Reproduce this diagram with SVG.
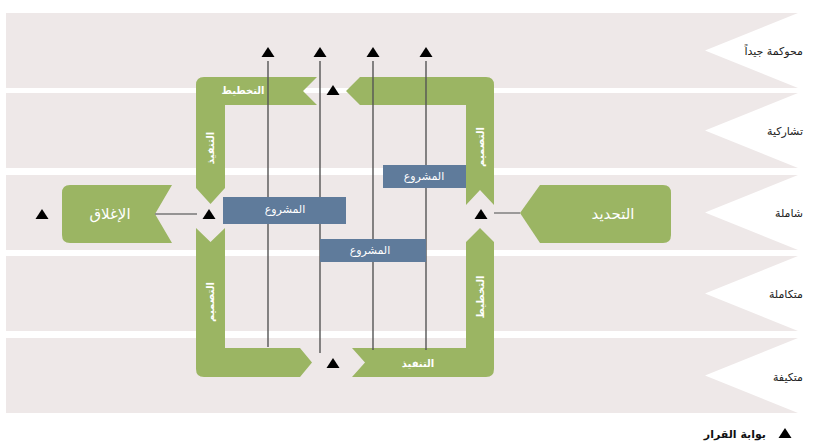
<svg xmlns="http://www.w3.org/2000/svg" xmlns:xlink="http://www.w3.org/1999/xlink" width="828" height="446" viewBox="0 0 828 446">
<style>
.band{fill:#eee8e8}
.green{fill:#9bb563}
.blue{fill:#5f7b9b}
.line{stroke:#555;stroke-width:1.4;fill:none}
.conn{stroke:#777;stroke-width:1.4;fill:none}
.gate{fill:#000}
text{font-family:"DejaVu Sans","Noto Sans",sans-serif}
.lab{fill:#fff;font-size:10px;font-weight:bold}
.big{fill:#fff;font-size:15px}
.proj{fill:#fff;font-size:11px}
.row{fill:#222;font-size:11px}
.leg{fill:#111;font-size:11px;font-weight:bold}
</style>
<defs>
<path id="tri" d="M-6.5,4 L6.5,4 L0,-6 Z"/>
<path id="bandshape" d="M6,0 H798 L705,37.5 L798,75 H6 Z"/>
</defs>
<rect width="828" height="446" fill="#fff"/>
<g id="bands">
<use xlink:href="#bandshape" class="band" transform="translate(0,13)"/>
<use xlink:href="#bandshape" class="band" transform="translate(0,93)"/>
<use xlink:href="#bandshape" class="band" transform="translate(0,175)"/>
<use xlink:href="#bandshape" class="band" transform="translate(0,256)"/>
<use xlink:href="#bandshape" class="band" transform="translate(0,338)"/>
<text class="row" x="803" y="55" text-anchor="end">محوكمة جيداً</text>
<text class="row" x="803" y="135" text-anchor="end">تشاركية</text>
<text class="row" x="803" y="217" text-anchor="end">شاملة</text>
<text class="row" x="803" y="298" text-anchor="end">متكاملة</text>
<text class="row" x="803" y="381" text-anchor="end">متكيفة</text>
</g>
<g id="closing">
<path class="green" d="M172,185 L155,214 L172,243 H70 Q62,243 62,235 V193 Q62,185 70,185 Z"/>
<text class="big" x="110" y="219" text-anchor="middle">الإغلاق</text>
</g>
<g id="defining">
<path class="green" d="M520,213 L540,185 H663 Q671,185 671,193 V235 Q671,243 663,243 H540 Z"/>
<text class="big" x="613" y="219" text-anchor="middle">التحديد</text>
</g>
<g id="bracket-top-left">
<path class="green" d="M317,77 L303,91 L317,105 H225 V188 L210.5,204 L196,188 V85 Q196,77 204,77 Z"/>
<text class="lab" x="243" y="94" text-anchor="middle">التخطيط</text>
<text class="lab" transform="translate(214,148) rotate(-90)" text-anchor="middle">التنفيذ</text>
</g>
<g id="bracket-top-right">
<path class="green" d="M346,91 L360,77 H486 Q494,77 494,85 V205 L480,190 L466,205 V105 H360 Z"/>
<text class="lab" transform="translate(484,147) rotate(-90)" text-anchor="middle">التصميم</text>
</g>
<g id="bracket-bottom-left">
<path class="green" d="M196,228 L210.5,242 L225,228 V348 H300 L312,362.5 L300,377 H204 Q196,377 196,369 Z"/>
<text class="lab" transform="translate(214,302) rotate(-90)" text-anchor="middle">التصميم</text>
</g>
<g id="bracket-bottom-right">
<path class="green" d="M352,348 H466 V242 L480,228 L494,242 V369 Q494,377 486,377 H352 L365,362.5 Z"/>
<text class="lab" transform="translate(484,297) rotate(-90)" text-anchor="middle">التخطيط</text>
<text class="lab" x="418" y="367" text-anchor="middle">التنفيذ</text>
</g>
<g id="connectors">
<line class="line" x1="268" y1="61" x2="268" y2="347"/>
<line class="line" x1="320" y1="61" x2="320" y2="353"/>
<line class="line" x1="373" y1="61" x2="373" y2="350"/>
<line class="line" x1="426" y1="61" x2="426" y2="350"/>
<line class="conn" x1="155" y1="214" x2="197" y2="214"/>
<line class="conn" x1="494" y1="213" x2="520" y2="213"/>
<use xlink:href="#tri" class="gate" x="268" y="53"/>
<use xlink:href="#tri" class="gate" x="320" y="53"/>
<use xlink:href="#tri" class="gate" x="373" y="53"/>
<use xlink:href="#tri" class="gate" x="426" y="53"/>
</g>
<g id="project-1">
<rect class="blue" x="223" y="197" width="123" height="27"/>
<text class="proj" x="285" y="213" text-anchor="middle">المشروع</text>
</g>
<g id="project-2">
<rect class="blue" x="320" y="239" width="106" height="23"/>
<text class="proj" x="370" y="254" text-anchor="middle">المشروع</text>
</g>
<g id="project-3">
<rect class="blue" x="383" y="165" width="83" height="23"/>
<text class="proj" x="424" y="180" text-anchor="middle">المشروع</text>
</g>
<g id="gates">
<use xlink:href="#tri" class="gate" x="333" y="91"/>
<use xlink:href="#tri" class="gate" x="333" y="364"/>
<use xlink:href="#tri" class="gate" x="209" y="215"/>
<use xlink:href="#tri" class="gate" x="481" y="215"/>
<use xlink:href="#tri" class="gate" x="42" y="215"/>
</g>
<g id="legend">
<use xlink:href="#tri" class="gate" x="785" y="434"/>
<text class="leg" x="766" y="438" text-anchor="end">بوابة القرار</text>
</g>
</svg>
